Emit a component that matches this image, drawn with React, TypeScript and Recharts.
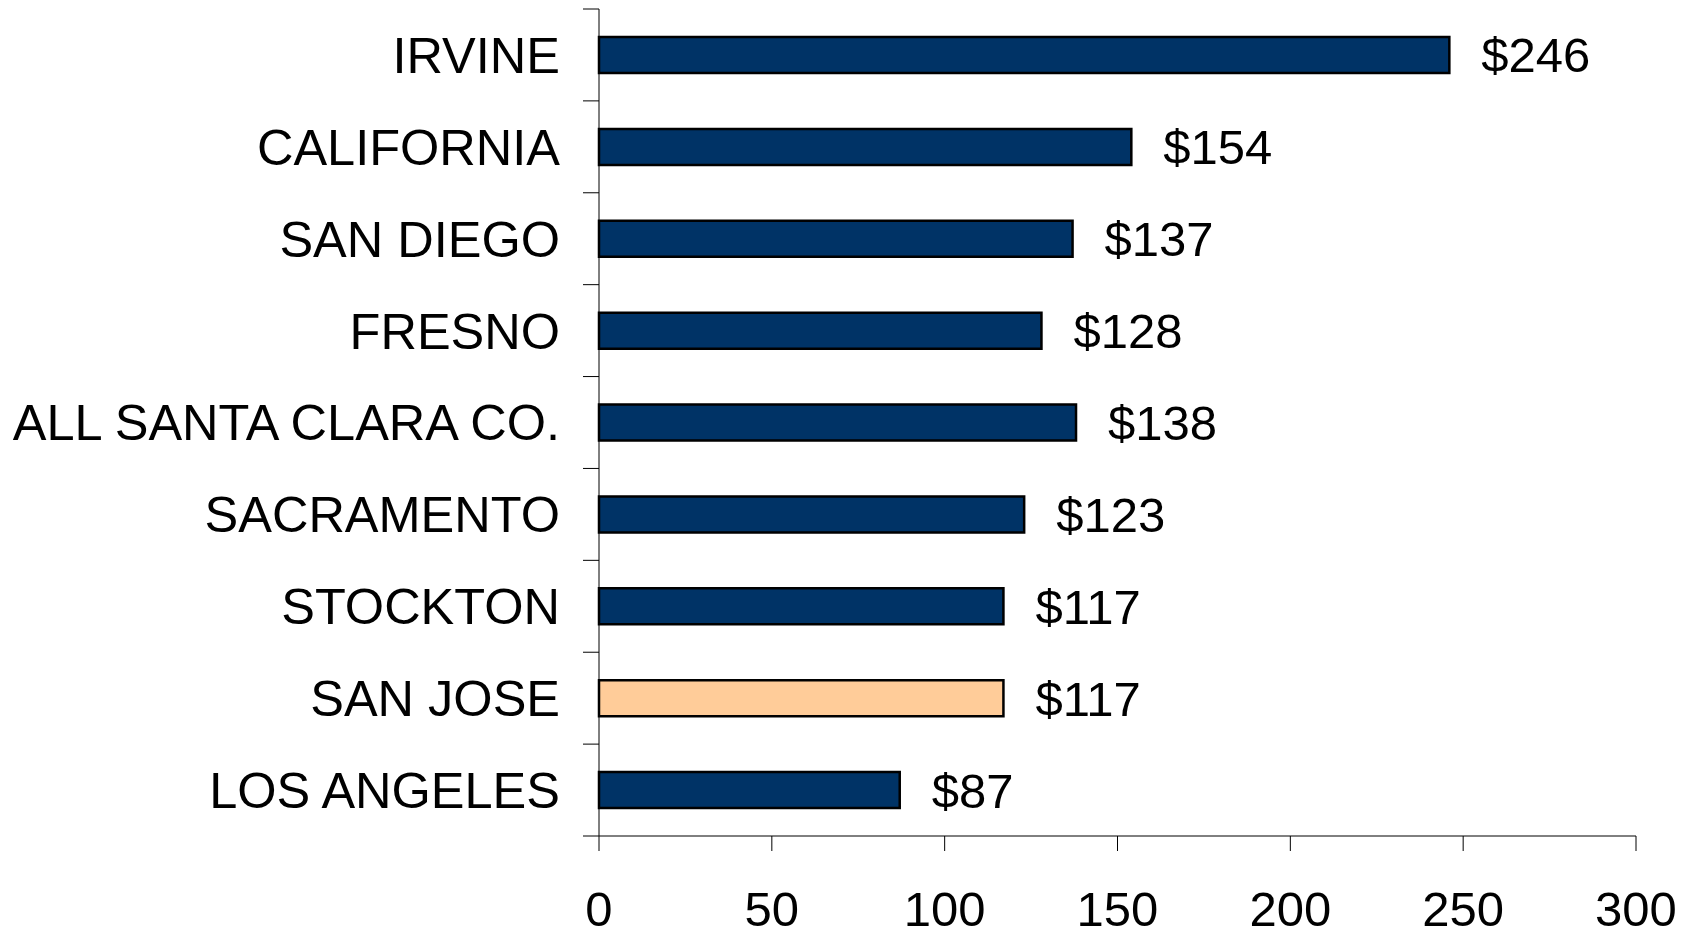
import { BarChart, Bar, XAxis, YAxis, Cell, LabelList } from 'recharts';

const cities = [
  'IRVINE',
  'CALIFORNIA',
  'SAN DIEGO',
  'FRESNO',
  'ALL SANTA CLARA CO.',
  'SACRAMENTO',
  'STOCKTON',
  'SAN JOSE',
  'LOS ANGELES',
];
const amounts = [246, 154, 137, 128, 138, 123, 117, 117, 87];
const xTicks = [0, 50, 100, 150, 200, 250, 300];
const highlighted = 'SAN JOSE';

const data = cities.map((name, i) => ({ name, value: amounts[i] }));

const font = '"Liberation Sans", Arial, sans-serif';
const TICK_LEN = 16;
const LABEL_GAP = 39;

// category label plus a tick mark on the band edges (excel style)
const CityTick = (props: any) => {
  const { x, y, payload, index } = props;
  const half = payload.offset || 0;
  const ax = x + LABEL_GAP;
  const isLast = index === cities.length - 1;
  return (
    <g>
      <line x1={ax - TICK_LEN} x2={ax} y1={y - half} y2={y - half} stroke="#000" />
      {isLast && <line x1={ax - TICK_LEN} x2={ax} y1={y + half} y2={y + half} stroke="#000" />}
      <text
        x={x}
        y={y}
        dy="0.355em"
        textAnchor="end"
        fontSize={50.5}
        fontFamily={font}
        fill="#000"
      >
        {payload.value}
      </text>
    </g>
  );
};

const App = () => {
  return (
    <div style={{ position: 'absolute', left: 0, top: 0, background: '#fff' }}>
      <BarChart
        width={1694}
        height={938}
        data={data}
        layout="vertical"
        margin={{ top: 9, right: 58, bottom: 0, left: 0 }}
      >
        <XAxis
          type="number"
          domain={[0, 300]}
          ticks={xTicks}
          height={102}
          tickSize={15}
          tickMargin={40}
          interval={0}
          stroke="#000"
          tick={{ fontSize: 49, fill: '#000', fontFamily: font }}
        />
        <YAxis
          type="category"
          dataKey="name"
          width={599}
          interval={0}
          tickLine={false}
          tickSize={0}
          tickMargin={LABEL_GAP}
          stroke="#000"
          tick={<CityTick />}
        />
        <Bar
          dataKey="value"
          barSize={36}
          stroke="#000"
          strokeWidth={2.5}
          isAnimationActive={false}
        >
          {data.map((d) => (
            <Cell key={d.name} fill={d.name === highlighted ? '#FFCC99' : '#003366'} />
          ))}
          <LabelList
            dataKey="value"
            position="right"
            offset={32}
            formatter={(v: any) => `$${v}`}
            style={{ fontSize: 49, fontFamily: font, fill: '#000' }}
          />
        </Bar>
      </BarChart>
    </div>
  );
};

export default App;
